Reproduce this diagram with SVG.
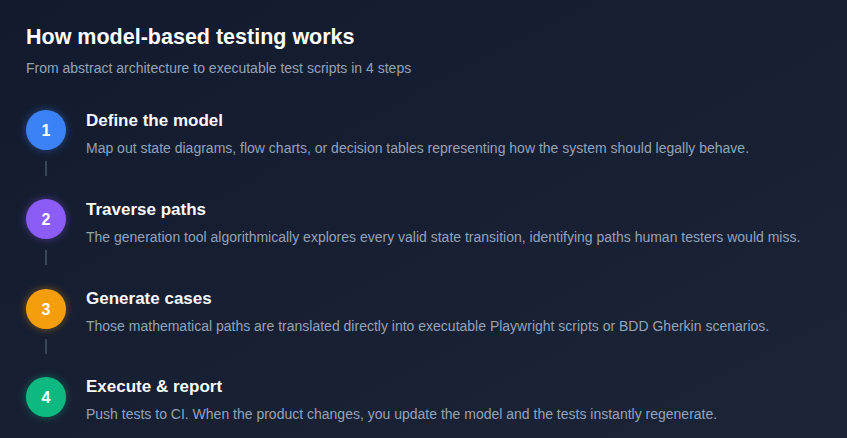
<svg xmlns="http://www.w3.org/2000/svg" width="847" height="438" viewBox="0 0 847 438">
<defs>
<linearGradient id="bg" x1="0" y1="0" x2="1" y2="1">
<stop offset="0" stop-color="#121a2d"/>
<stop offset="1" stop-color="#1c2438"/>
</linearGradient>
<filter id="glow" x="-50%" y="-50%" width="200%" height="200%">
<feGaussianBlur in="SourceGraphic" stdDeviation="4" result="b"/>
<feComponentTransfer in="b" result="bb"><feFuncA type="linear" slope="0.45"/></feComponentTransfer>
<feMerge><feMergeNode in="bb"/><feMergeNode in="SourceGraphic"/></feMerge>
</filter>
<style>
.h{font-family:"Liberation Sans",Arial,sans-serif;font-weight:bold;font-size:21.5px;fill:#ffffff}
.sub{font-family:"Liberation Sans",Arial,sans-serif;font-size:14px;fill:#94a3b8}
.t{font-family:"Liberation Sans",Arial,sans-serif;font-weight:bold;font-size:17px;fill:#f8fafc}
.d{font-family:"Liberation Sans",Arial,sans-serif;font-size:14px;fill:#94a3b8}
.n{font-family:"Liberation Sans",Arial,sans-serif;font-weight:bold;font-size:16px;fill:#ffffff;text-anchor:middle}
.c{stroke:#475569;stroke-width:1.5}
</style>
</defs>
<rect width="847" height="438" fill="url(#bg)"/>
<text class="h" x="26" y="44">How model-based testing works</text>
<text class="sub" x="26" y="73">From abstract architecture to executable test scripts in 4 steps</text>
<g id="connectors">
<line class="c" x1="46" y1="161" x2="46" y2="176"/>
<line class="c" x1="46" y1="250" x2="46" y2="265"/>
<line class="c" x1="46" y1="339" x2="46" y2="354"/>
</g>
<g id="step1">
<circle cx="46" cy="130" r="20" fill="#3b82f6" filter="url(#glow)"/>
<text class="n" x="46" y="135.5">1</text>
<text class="t" x="86" y="126">Define the model</text>
<text class="d" x="86" y="153">Map out state diagrams, flow charts, or decision tables representing how the system should legally behave.</text>
</g>
<g id="step2">
<circle cx="46" cy="219" r="20" fill="#8b5cf6" filter="url(#glow)"/>
<text class="n" x="46" y="224.5">2</text>
<text class="t" x="86" y="215">Traverse paths</text>
<text class="d" x="86" y="242">The generation tool algorithmically explores every valid state transition, identifying paths human testers would miss.</text>
</g>
<g id="step3">
<circle cx="46" cy="309" r="20" fill="#f59e0b" filter="url(#glow)"/>
<text class="n" x="46" y="314.5">3</text>
<text class="t" x="86" y="304">Generate cases</text>
<text class="d" x="86" y="331">Those mathematical paths are translated directly into executable Playwright scripts or BDD Gherkin scenarios.</text>
</g>
<g id="step4">
<circle cx="46" cy="397" r="20" fill="#10b981" filter="url(#glow)"/>
<text class="n" x="46" y="402.5">4</text>
<text class="t" x="86" y="392">Execute &amp; report</text>
<text class="d" x="86" y="419">Push tests to CI. When the product changes, you update the model and the tests instantly regenerate.</text>
</g>
</svg>
